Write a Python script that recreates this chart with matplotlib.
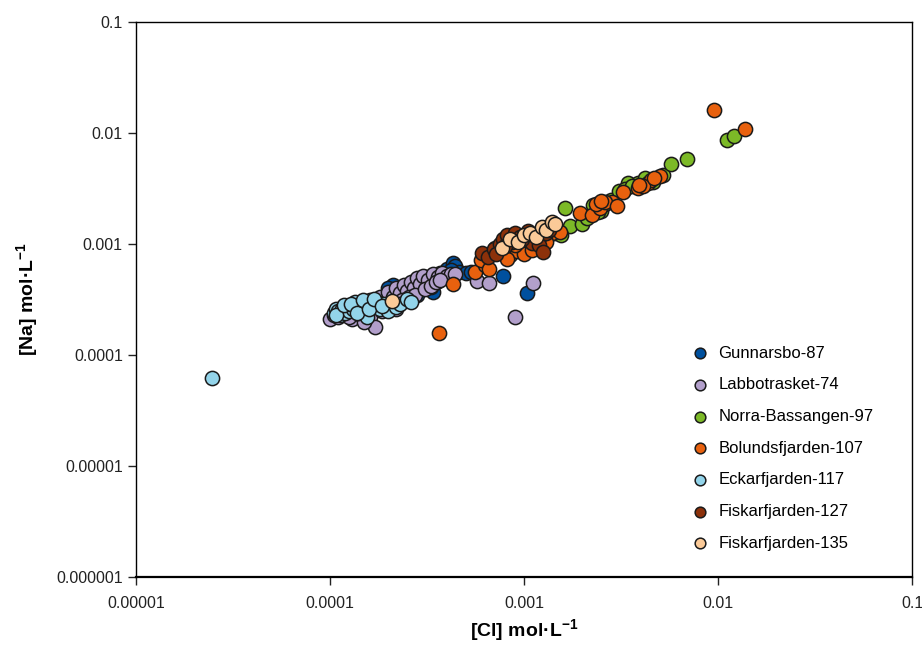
import matplotlib.pyplot as plt
from matplotlib.ticker import FixedLocator, FixedFormatter, NullLocator

plt.rcParams['font.family'] = ['Liberation Sans', 'DejaVu Sans']
plt.rcParams['mathtext.fontset'] = 'custom'
plt.rcParams['mathtext.rm'] = 'Liberation Sans'
plt.rcParams['mathtext.bf'] = 'Liberation Sans:bold'

# series: [Cl] (x) and [Na] (y), mol/L
gun_cl = [2.1e-4, 2.0e-4, 2.3e-4, 2.6e-4, 2.9e-4, 3.1e-4, 3.4e-4, 3.7e-4, 4.0e-4, 4.3e-4, 4.4e-4, 4.6e-4, 5.0e-4,
          3.0e-4, 2.5e-4, 7.8e-4, 1.04e-3, 3.6e-4, 3.9e-4, 4.2e-4, 2.8e-4, 3.3e-4, 5.3e-4]
gun_na = [4.3e-4, 4.0e-4, 3.6e-4, 3.2e-4, 4.5e-4, 5.0e-4, 3.7e-4, 5.5e-4, 6.0e-4, 6.7e-4, 6.3e-4, 5.6e-4, 5.5e-4,
          4.8e-4, 4.2e-4, 5.15e-4, 3.6e-4, 4.6e-4, 5.2e-4, 5.8e-4, 3.5e-4, 4.1e-4, 5.6e-4]

lab_cl = [1.0e-4, 1.05e-4, 1.1e-4, 1.2e-4, 1.3e-4, 1.35e-4, 1.45e-4, 1.55e-4, 1.6e-4, 1.7e-4, 1.8e-4, 1.9e-4,
          2.0e-4, 2.1e-4, 2.2e-4, 2.3e-4, 2.4e-4, 2.5e-4, 2.6e-4, 2.7e-4, 2.8e-4, 2.9e-4, 3.0e-4, 3.2e-4,
          3.4e-4, 3.6e-4, 3.8e-4, 4.0e-4, 4.2e-4, 4.4e-4, 1.7e-4, 5.7e-4, 6.6e-4, 9.0e-4, 1.11e-3, 1.5e-4,
          2.2e-4, 1.25e-4, 1.4e-4, 1.85e-4, 2.05e-4, 2.35e-4, 2.55e-4, 2.75e-4, 3.1e-4, 3.3e-4, 3.5e-4, 3.7e-4]
lab_na = [2.1e-4, 2.3e-4, 2.2e-4, 2.5e-4, 2.1e-4, 2.6e-4, 2.3e-4, 2.8e-4, 2.2e-4, 3.0e-4, 3.3e-4, 2.6e-4,
          3.7e-4, 3.3e-4, 4.0e-4, 3.6e-4, 4.3e-4, 3.8e-4, 4.5e-4, 4.0e-4, 4.9e-4, 4.4e-4, 5.2e-4, 4.7e-4,
          5.4e-4, 5.0e-4, 5.5e-4, 5.2e-4, 5.4e-4, 5.4e-4, 1.79e-4, 4.6e-4, 4.45e-4, 2.2e-4, 4.45e-4, 2.0e-4,
          2.6e-4, 2.2e-4, 2.4e-4, 2.5e-4, 2.9e-4, 3.1e-4, 3.3e-4, 3.5e-4, 3.9e-4, 4.2e-4, 4.5e-4, 4.7e-4]

nor_cl = [1.63e-3, 1.73e-3, 1.99e-3, 2.27e-3, 2.5e-3, 2.8e-3, 3.1e-3, 3.44e-3, 3.87e-3, 4.2e-3, 4.6e-3, 5.2e-3,
          5.73e-3, 6.92e-3, 0.0111, 0.0121, 1.3e-3, 1.45e-3, 1.55e-3, 2.1e-3, 2.6e-3, 3.3e-3, 2.4e-3, 3.6e-3]
nor_na = [2.1e-3, 1.45e-3, 1.51e-3, 2.25e-3, 2.0e-3, 2.5e-3, 3.0e-3, 3.55e-3, 3.55e-3, 3.9e-3, 3.6e-3, 4.19e-3,
          5.26e-3, 5.83e-3, 8.65e-3, 9.4e-3, 1.1e-3, 1.25e-3, 1.2e-3, 1.7e-3, 2.3e-3, 3.1e-3, 1.95e-3, 3.3e-3]

bol_cl = [5.59e-4, 6.3e-4, 7.1e-4, 7.8e-4, 8.5e-4, 9.2e-4, 1.05e-3, 1.18e-3, 1.28e-3, 1.39e-3, 1.53e-3, 1.94e-3,
          2.24e-3, 2.47e-3, 2.84e-3, 3.24e-3, 3.87e-3, 4.36e-3, 4.5e-3, 5.02e-3, 9.5e-3, 0.0138, 3.65e-4, 4.3e-4,
          6.0e-4, 8.2e-4, 1.0e-3, 1.12e-3, 1.3e-3, 2.6e-3, 3.0e-3, 4.1e-3, 4.7e-3, 6.6e-4, 9.0e-4, 1.1e-3,
          1.22e-3, 2.35e-3, 2.5e-3, 3.9e-3]
bol_na = [5.6e-4, 6.5e-4, 9.2e-4, 8.6e-4, 8.0e-4, 8.6e-4, 9.6e-4, 9.8e-4, 1.16e-3, 1.26e-3, 1.28e-3, 1.9e-3,
          1.82e-3, 2.11e-3, 2.39e-3, 2.94e-3, 3.2e-3, 3.55e-3, 3.78e-3, 4.1e-3, 0.0161, 0.0109, 1.58e-4, 4.37e-4,
          7.2e-4, 7.4e-4, 8.2e-4, 1.09e-3, 1.05e-3, 2.4e-3, 2.2e-3, 3.3e-3, 3.9e-3, 6.0e-4, 9.8e-4, 8.8e-4,
          1.2e-3, 2.3e-3, 2.45e-3, 3.4e-3]

eck_cl = [1.05e-4, 1.08e-4, 1.1e-4, 1.12e-4, 1.15e-4, 1.2e-4, 1.22e-4, 1.25e-4, 1.3e-4, 1.32e-4, 1.35e-4, 1.4e-4,
          1.45e-4, 1.5e-4, 1.55e-4, 1.6e-4, 1.62e-4, 1.7e-4, 1.75e-4, 1.8e-4, 1.9e-4, 2.0e-4, 2.2e-4, 2.3e-4,
          2.5e-4, 2.6e-4, 2.46e-5, 1.07e-4, 1.18e-4, 1.28e-4, 1.38e-4, 1.48e-4, 1.58e-4, 1.68e-4, 1.85e-4]
eck_na = [2.4e-4, 2.6e-4, 2.5e-4, 2.3e-4, 2.6e-4, 2.4e-4, 2.7e-4, 2.5e-4, 2.8e-4, 2.6e-4, 3.0e-4, 2.7e-4,
          2.5e-4, 2.9e-4, 2.2e-4, 3.1e-4, 2.7e-4, 2.8e-4, 3.0e-4, 2.6e-4, 2.9e-4, 2.5e-4, 2.7e-4, 2.9e-4,
          3.2e-4, 3.0e-4, 6.2e-5, 2.3e-4, 2.8e-4, 2.9e-4, 2.4e-4, 3.1e-4, 2.6e-4, 3.2e-4, 2.75e-4]

f127_cl = [6.1e-4, 6.5e-4, 7.0e-4, 7.5e-4, 7.8e-4, 8.2e-4, 8.7e-4, 9.0e-4, 9.5e-4, 1.0e-3, 1.05e-3, 1.1e-3,
           1.2e-3, 1.25e-3, 1.3e-3, 1.35e-3, 8.0e-4, 7.2e-4, 9.8e-4, 1.15e-3]
f127_na = [8.3e-4, 7.6e-4, 9.0e-4, 1.0e-3, 1.1e-3, 1.2e-3, 1.05e-3, 1.25e-3, 1.15e-3, 1.2e-3, 1.3e-3, 1.02e-3,
           9.8e-4, 8.5e-4, 1.25e-3, 1.35e-3, 9.5e-4, 8.2e-4, 1.1e-3, 1.22e-3]

f135_cl = [2.08e-4, 7.7e-4, 8.5e-4, 9.3e-4, 1.0e-3, 1.07e-3, 1.15e-3, 1.24e-3, 1.3e-3, 1.39e-3, 1.45e-3]
f135_na = [3.06e-4, 9.2e-4, 1.1e-3, 1.04e-3, 1.2e-3, 1.26e-3, 1.15e-3, 1.42e-3, 1.35e-3, 1.58e-3, 1.5e-3]

labels = ['Gunnarsbo-87', 'Labbotrasket-74', 'Norra-Bassangen-97', 'Bolundsfjarden-107',
          'Eckarfjarden-117', 'Fiskarfjarden-127', 'Fiskarfjarden-135']
colors = ['#00509E', '#B29FCB', '#7CB927', '#E8610E', '#93D4EA', '#8C310A', '#FBCA98']
xs = [gun_cl, lab_cl, nor_cl, bol_cl, eck_cl, f127_cl, f135_cl]
ys = [gun_na, lab_na, nor_na, bol_na, eck_na, f127_na, f135_na]

fig = plt.figure(figsize=(9.22, 6.63), dpi=100)
ax = fig.add_axes([136/922, 86/663, 776/922, 555/663])

for x, y, c, lab in zip(xs, ys, colors, labels):
    ax.scatter(x, y, s=105, c=c, edgecolors='#1a1a1a', linewidths=1.1, label=lab, zorder=3)

ax.set_xscale('log')
ax.set_yscale('log')
ax.set_xlim(1e-5, 0.1)
ax.set_ylim(1e-6, 0.1)

xt = [1e-5, 1e-4, 1e-3, 1e-2, 1e-1]
yt = [1e-6, 1e-5, 1e-4, 1e-3, 1e-2, 1e-1]
ax.xaxis.set_major_locator(FixedLocator(xt))
ax.xaxis.set_major_formatter(FixedFormatter(['0.00001', '0.0001', '0.001', '0.01', '0.1']))
ax.yaxis.set_major_locator(FixedLocator(yt))
ax.yaxis.set_major_formatter(FixedFormatter(['0.000001', '0.00001', '0.0001', '0.001', '0.01', '0.1']))
ax.xaxis.set_minor_locator(NullLocator())
ax.yaxis.set_minor_locator(NullLocator())
ax.tick_params(direction='out', length=6, width=1, labelsize=11.5, colors='#222222')
ax.tick_params(axis='x', pad=8)
for sp in ax.spines.values():
    sp.set_linewidth(1.0)
ax.spines['bottom'].set_linewidth(1.6)

ax.set_xlabel(r'[Cl] mol·L$^{\mathbf{-1}}$', fontsize=14, fontweight='bold', labelpad=4)
ax.set_ylabel(r'[Na] mol·L$^{\mathbf{-1}}$', fontsize=14, fontweight='bold', labelpad=11)

leg = ax.legend(loc='upper left', bbox_to_anchor=(0.697, 0.429), frameon=False,
                fontsize=12, markerscale=0.75, handletextpad=0.1,
                labelspacing=1.0, borderaxespad=0)

fig.savefig('out.png', dpi=100)
